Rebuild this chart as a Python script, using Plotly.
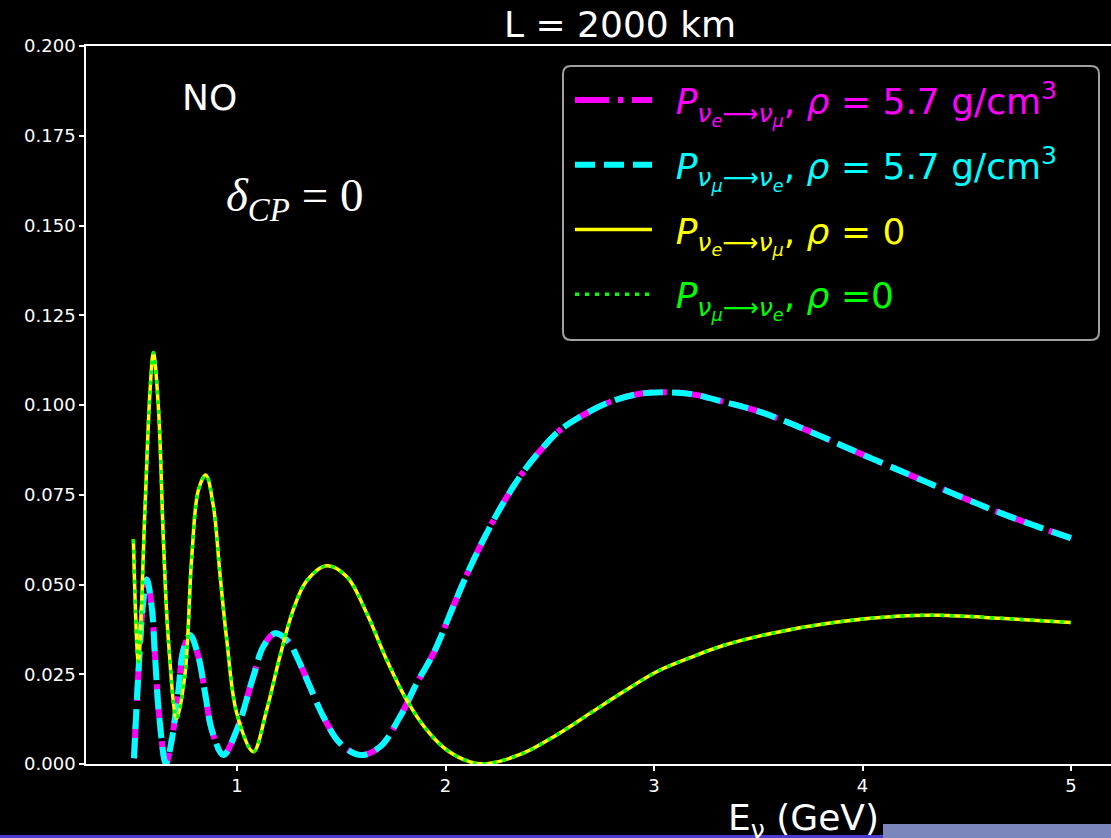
import plotly.graph_objects as go

# ---------------- data ----------------
# vacuum curve (rho = 0): identical for nu_e->nu_mu and nu_mu->nu_e
energy_vac = [0.503, 0.527, 0.559, 0.583, 0.599, 0.623, 0.647, 0.671, 0.711, 0.751,
              0.783, 0.815, 0.850, 0.887, 0.918, 0.951, 0.999, 1.078, 1.142, 1.206,
              1.270, 1.334, 1.430, 1.526, 1.622, 1.718, 1.814, 1.910, 2.006, 2.118,
              2.198, 2.373, 2.533, 2.693, 2.853, 3.013, 3.173, 3.332, 3.556, 3.860,
              4.180, 4.372, 4.659, 5.000]
prob_vac = [0.0626, 0.0285, 0.0717, 0.1040, 0.1146, 0.0995, 0.0624, 0.0345, 0.0127, 0.0253,
            0.0577, 0.0763, 0.0805, 0.0717, 0.0531, 0.0345, 0.0141, 0.0034, 0.0150, 0.0300,
            0.0430, 0.0510, 0.0552, 0.0522, 0.0420, 0.0290, 0.0178, 0.0095, 0.0039, 0.0006,
            0.0001, 0.0030, 0.0081, 0.0141, 0.0201, 0.0257, 0.0296, 0.0330, 0.0363, 0.0394,
            0.0412, 0.0414, 0.0406, 0.0394]

# matter curve (rho = 5.7 g/cm^3): identical for both channels
energy_mat = [0.506, 0.527, 0.548, 0.567, 0.591, 0.607, 0.627, 0.659, 0.687, 0.719,
              0.743, 0.775, 0.815, 0.847, 0.879, 0.934, 0.999, 1.078, 1.126, 1.182,
              1.246, 1.294, 1.350, 1.414, 1.494, 1.590, 1.686, 1.782, 1.862, 1.942,
              2.030, 2.094, 2.150, 2.213, 2.285, 2.366, 2.453, 2.549, 2.645, 2.773,
              2.901, 3.013, 3.173, 3.332, 3.508, 3.748, 3.988, 4.228, 4.468, 4.707,
              5.000]
prob_mat = [0.0016, 0.0253, 0.0438, 0.0514, 0.0438, 0.0299, 0.0132, 0.0002, 0.0067, 0.0206,
            0.0318, 0.0359, 0.0299, 0.0197, 0.0095, 0.0025, 0.0095, 0.0243, 0.0327, 0.0364,
            0.0341, 0.0290, 0.0215, 0.0132, 0.0058, 0.0025, 0.0048, 0.0132, 0.0225, 0.0308,
            0.0429, 0.0517, 0.0587, 0.0660, 0.0735, 0.0808, 0.0872, 0.0930, 0.0967, 0.1005,
            0.1028, 0.1035, 0.1031, 0.1009, 0.0981, 0.0926, 0.0865, 0.0805, 0.0745, 0.0689,
            0.0629]

p_emu_matter = prob_mat
p_mue_matter = prob_mat
p_emu_vacuum = prob_vac
p_mue_vacuum = prob_vac

y_ticks = [0.0, 0.025, 0.05, 0.075, 0.1, 0.125, 0.15, 0.175, 0.2]
x_ticks = [1, 2, 3, 4, 5]

PRE = "&nbsp;\u2009"
labels = [
    PRE + '<span style="color:#ff00ff"><i>P</i><sub><i>ν<sub>e</sub></i>⟶<i>ν<sub>μ</sub></i></sub>, <i>ρ</i> = 5.7 g/cm<sup>3</sup></span>',
    PRE + '<span style="color:#00ffff"><i>P</i><sub><i>ν<sub>μ</sub></i>⟶<i>ν<sub>e</sub></i></sub>, <i>ρ</i> = 5.7 g/cm<sup>3</sup></span>',
    PRE + '<span style="color:#ffff00"><i>P</i><sub><i>ν<sub>e</sub></i>⟶<i>ν<sub>μ</sub></i></sub>, <i>ρ</i> = 0</span>',
    PRE + '<span style="color:#00ff00"><i>P</i><sub><i>ν<sub>μ</sub></i>⟶<i>ν<sub>e</sub></i></sub>, <i>ρ</i> =0</span>',
]

# ---------------- figure ----------------
W, H = 1111, 838
L, R, T, B = 86, 0, 46, 74
PW, PH = W - L - R, H - T - B


def px(xp):
    return (xp - L) / PW


def py(yp):
    return (H - B - yp) / PH


fig = go.Figure()
fig.add_trace(go.Scatter(x=energy_mat, y=p_emu_matter, mode="lines", name=labels[0],
                         line=dict(color="#ff00ff", width=6, dash="34px,9px,5px,9px", shape="spline"),
                         legendgroup="a"))
fig.add_trace(go.Scatter(x=energy_mat, y=p_mue_matter, mode="lines", name=labels[1],
                         line=dict(color="#00ffff", width=6, dash="20px,9px", shape="spline"),
                         legendgroup="b"))
fig.add_trace(go.Scatter(x=energy_vac, y=p_emu_vacuum, mode="lines", name=labels[2],
                         line=dict(color="#ffff00", width=3.5, shape="spline"),
                         legendgroup="c"))
fig.add_trace(go.Scatter(x=energy_vac, y=p_mue_vacuum, mode="lines", name=labels[3],
                         line=dict(color="#00ff00", width=3.5, dash="4px,6px", shape="spline"),
                         legendgroup="d"))

axis_font = dict(family="DejaVu Sans", size=18, color="white")
fig.update_xaxes(range=[0.2758, 5.1918], tickvals=x_ticks, ticktext=[str(v) for v in x_ticks],
                 ticks="outside", ticklen=5, tickwidth=1.5, tickcolor="white",
                 showline=True, linecolor="white", linewidth=1.5, mirror=True,
                 showgrid=False, zeroline=False, tickfont=axis_font)
fig.update_yaxes(range=[0, 0.2], tickvals=y_ticks, tickformat=".3f",
                 ticks="outside", ticklen=5, tickwidth=1.5, tickcolor="white",
                 showline=True, linecolor="white", linewidth=1.5, mirror=False,
                 showgrid=False, zeroline=False, tickfont=axis_font)

annots = [
    dict(text="L = 2000 km", x=px(620), y=py(24), font=dict(family="DejaVu Sans", size=36, color="white")),
    dict(text="NO", x=px(209), y=py(97), font=dict(family="DejaVu Sans", size=36, color="white")),
    dict(text="<i>δ</i><sub><i>CP</i></sub> = 0", x=px(294), y=py(198),
         font=dict(family="Liberation Serif", size=47, color="white")),
    dict(text="E<sub>ν</sub> (GeV)", x=px(803), y=py(820), font=dict(family="DejaVu Sans", size=36, color="white")),
]
for a in annots:
    fig.add_annotation(xref="paper", yref="paper", showarrow=False, xanchor="center", yanchor="middle", **a)

# legend frame (rounded box)
x0, x1, y0, y1, r = px(563), px(1099), py(340), py(66), 8
rx, ry = r / PW, r / PH
path = (f"M{x0+rx},{y0} L{x1-rx},{y0} Q{x1},{y0} {x1},{y0+ry} L{x1},{y1-ry} Q{x1},{y1} {x1-rx},{y1} "
        f"L{x0+rx},{y1} Q{x0},{y1} {x0},{y1-ry} L{x0},{y0+ry} Q{x0},{y0} {x0+rx},{y0} Z")
fig.add_shape(type="path", path=path, xref="paper", yref="paper",
              fillcolor="black", line=dict(color="#a0a0a0", width=2), layer="above")

# bottom strip (screen artefact in the reference)
fig.add_shape(type="rect", xref="paper", yref="paper", x0=px(0), x1=px(883), y0=py(838), y1=py(835),
              fillcolor="#4b3bcf", line_width=0, layer="above")
fig.add_shape(type="rect", xref="paper", yref="paper", x0=px(883), x1=px(1111), y0=py(838), y1=py(824),
              fillcolor="#7b86bd", line_width=0, layer="above")

fig.update_layout(
    width=W, height=H,
    margin=dict(l=L, r=R, t=T, b=B, pad=0),
    paper_bgcolor="black", plot_bgcolor="black",
    font=dict(family="DejaVu Sans", color="white"),
    showlegend=True,
    legend=dict(x=px(570), y=py(70), xanchor="left", yanchor="top",
                bgcolor="rgba(0,0,0,0)", borderwidth=0,
                font=dict(family="DejaVu Sans", size=36, color="white"),
                itemwidth=77, tracegroupgap=15, traceorder="grouped"),
)

fig.write_html("out.html")
